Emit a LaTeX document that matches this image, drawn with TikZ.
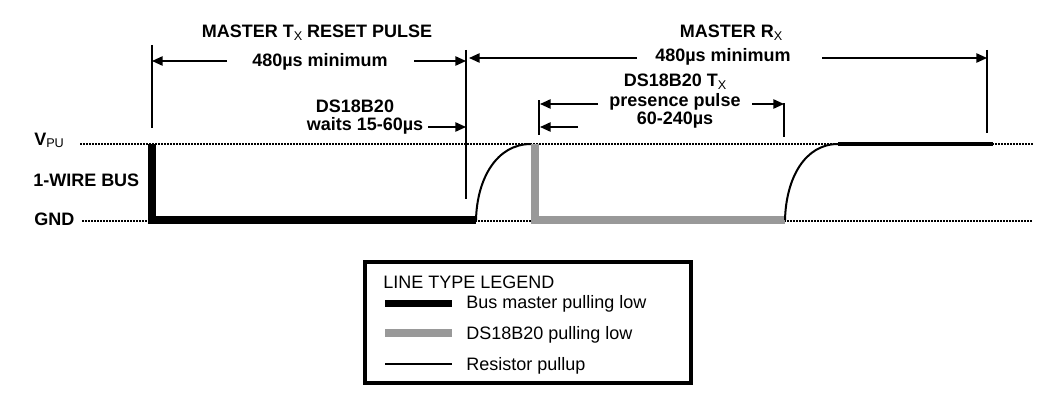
\documentclass[tikz,border=0pt]{standalone}
\usepackage{fontspec}
\setmainfont{Liberation Sans}
\usetikzlibrary{arrows.meta}
\definecolor{slavegray}{RGB}{153,153,153}
\newcommand\lowidx[1]{\raisebox{-0.25ex}{\fontsize{9.5}{9.5}\selectfont\mdseries #1}}

\begin{document}
\begin{tikzpicture}[x=0.75pt,y=-0.75pt,
  >={Triangle[length=8pt,width=7pt]},
  lbl/.style={font=\fontsize{13.5}{13.5}\selectfont\bfseries, inner sep=0pt},
  legtxt/.style={font=\fontsize{13.5}{13.5}\selectfont, inner sep=0pt, anchor=base west},
  level/.style={line width=0.9pt, dash pattern=on 1.5pt off 0.75pt},
  marker/.style={line width=1.2pt},
  dim/.style={line width=1.2pt,->},
  masterlow/.style={line width=6pt, line cap=butt},
  slavelow/.style={line width=6pt, slavegray, line cap=butt},
  pullup/.style={line width=1.5pt}]
\useasboundingbox (0,0) rectangle (1059,410);

% time points on the bus
\coordinate (t0) at (152,0);
\coordinate (t1) at (466,0);
\coordinate (tr) at (476,0);
\coordinate (tp) at (535,0);
\coordinate (tq) at (785,0);
\coordinate (t2) at (838,0);
\coordinate (te) at (987,0);

% levels
\node[lbl, anchor=base west] (vpu) at (34,145) {V\lowidx{PU}};
\node[lbl, anchor=base west] (wire) at (33,186) {1-WIRE BUS};
\node[lbl, anchor=base west] (gnd) at (34,225) {GND};
\draw[level] (80,144) -- (1033,144);
\draw[level] (82,221) -- (1033,221);

% bus waveform
\draw[masterlow] (t0 |- 0,144) -- (t0 |- 0,220) -- (tr |- 0,220);
\draw[pullup] (tr |- 0,220) .. controls (477,178) and (497,144) .. (531,144);
\draw[slavelow] (tp |- 0,144) -- (tp |- 0,220) -- (tq |- 0,220);
\draw[pullup] (tq |- 0,220) .. controls (786,178) and (805,144) .. (838,144);
\draw[line width=3pt] (t2 |- 0,144) -- (993,144);

% markers
\draw[marker] (t0 |- 0,45) -- (t0 |- 0,128);
\draw[marker] (t1 |- 0,50) -- (t1 |- 0,199);
\draw[marker] (539,100) -- (539,135);
\draw[marker] (784,103) -- (784,137);
\draw[marker] (te |- 0,50) -- (te |- 0,133);

% master tx
\node[lbl, anchor=base] (txhead) at (317,38) {MASTER T\lowidx{X} RESET PULSE};
\node[lbl, anchor=base] (txmin) at (320,67) {480µs minimum};
\draw[dim] (227,61) -- (t0 |- 0,61);
\draw[dim] (414,61) -- (t1 |- 0,61);
\node[lbl, anchor=base] (ds) at (355,112) {DS18B20};
\node[lbl, anchor=base] (waits) at (365,130) {waits 15-60µs};
\draw[dim] (428,127) -- (t1 |- 0,127);

% master rx
\node[lbl, anchor=base] (rxhead) at (731,38) {MASTER R\lowidx{X}};
\node[lbl, anchor=base] (rxmin) at (723,62) {480µs minimum};
\draw[dim] (637,58) -- (469,58);
\draw[dim] (822,58) -- (te |- 0,58);

% presence pulse
\node[lbl, anchor=base] (dstx) at (675,87) {DS18B20 T\lowidx{X}};
\node[lbl, anchor=base] (pres) at (675,106) {presence pulse};
\node[lbl, anchor=base] (prest) at (675,124) {60-240µs};
\draw[dim] (598,104) -- (540,104);
\draw[dim] (752,104) -- (784,104);
\draw[dim] (578,127) -- (540,127);

% legend
\draw[line width=3pt] (365,262) rectangle (691,383);
\node[legtxt] (leghead) at (383,288) {LINE TYPE LEGEND};
\draw[line width=5.3pt] (385,303.5) -- (452,303.5);
\node[legtxt] (legm) at (466,308) {Bus master pulling low};
\draw[line width=5.3pt, slavegray] (385,333) -- (452,333);
\node[legtxt] (legs) at (466,339) {DS18B20 pulling low};
\draw[pullup] (385,364) -- (452,364);
\node[legtxt] (legr) at (466,370) {Resistor pullup};
\end{tikzpicture}
\end{document}
